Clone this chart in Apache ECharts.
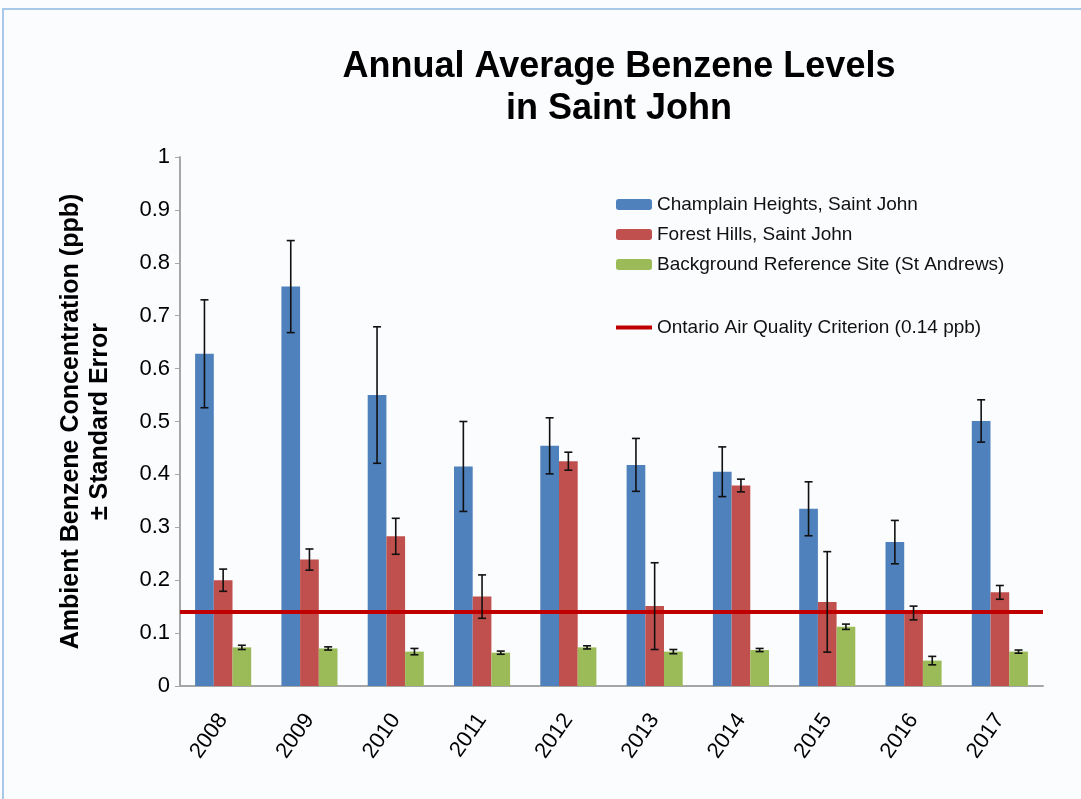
<!DOCTYPE html>
<html>
<head>
<meta charset="utf-8">
<script src="https://cdn.jsdelivr.net/npm/echarts@6/dist/echarts.min.js"></script>
<style>
  html, body { margin: 0; padding: 0; background: #fbfcfe; }
  #main { width: 1081px; height: 799px; }
</style>
</head>
<body>
<div id="main"></div>
<script>
  const years = ["2008", "2009", "2010", "2011", "2012", "2013", "2014", "2015", "2016", "2017"];
  const yTicks = { min: 0, max: 1, step: 0.1 };

  const champlain = [0.628, 0.755, 0.550, 0.415, 0.454, 0.418, 0.405, 0.335, 0.272, 0.501];
  const champlainErr = [0.102, 0.087, 0.129, 0.085, 0.053, 0.050, 0.047, 0.051, 0.041, 0.040];

  const forestHills = [0.200, 0.239, 0.283, 0.169, 0.425, 0.151, 0.379, 0.159, 0.138, 0.177];
  const forestHillsErr = [0.021, 0.020, 0.034, 0.041, 0.017, 0.082, 0.012, 0.095, 0.013, 0.013];

  const background = [0.073, 0.071, 0.065, 0.063, 0.073, 0.065, 0.068, 0.112, 0.048, 0.065];
  const backgroundErr = [0.004, 0.003, 0.006, 0.003, 0.003, 0.004, 0.003, 0.005, 0.008, 0.003];

  const criterion = 0.14;

  const names = [
    "Champlain Heights, Saint John",
    "Forest Hills, Saint John",
    "Background Reference Site (St Andrews)",
    "Ontario Air Quality Criterion (0.14 ppb)"
  ];
  const colors = ["#4f81bd", "#c0504d", "#9bbb59", "#c00000"];
  const gapPct = 0.35;

  // error bar drawn as I-beam, slot = -1 / 0 / 1 position inside the group
  function errorSeries(vals, errs, slot) {
    return {
      type: "custom",
      silent: true,
      z: 5,
      data: vals.map((v, i) => [i, v - errs[i], v + errs[i]]),
      renderItem: function (params, api) {
        const bandW = api.size([1, 0])[0];
        const barW = bandW * (1 - gapPct) / 3;
        const lo = api.coord([api.value(0), api.value(1)]);
        const hi = api.coord([api.value(0), api.value(2)]);
        const x = lo[0] + slot * barW;
        const cap = 4;
        const style = { stroke: "#111", lineWidth: 1.6 };
        return {
          type: "group",
          children: [
            { type: "line", shape: { x1: x, y1: lo[1], x2: x, y2: hi[1] }, style: style },
            { type: "line", shape: { x1: x - cap, y1: lo[1], x2: x + cap, y2: lo[1] }, style: style },
            { type: "line", shape: { x1: x - cap, y1: hi[1], x2: x + cap, y2: hi[1] }, style: style }
          ]
        };
      }
    };
  }

  const chart = echarts.init(document.getElementById("main"));
  const option = {
    backgroundColor: "#fbfcfe",
    textStyle: { fontFamily: "Liberation Sans, Arial, sans-serif" },
    title: {
      text: "Annual Average Benzene Levels\nin Saint John",
      left: 614,
      textAlign: "center",
      top: 41,
      textStyle: { fontSize: 36, fontWeight: "bold", color: "#000", lineHeight: 42 }
    },
    graphic: [
      {
        type: "rect",
        shape: { x: 3, y: 9, width: 1100, height: 800 },
        style: { fill: "none", stroke: "#a8c8e8", lineWidth: 2 },
        silent: true
      }
    ],
    legend: [
      {
        data: names.slice(0, 3),
        orient: "vertical",
        left: 611,
        top: 190,
        itemWidth: 36,
        itemHeight: 11,
        itemGap: 11,
        textStyle: { fontSize: 19, color: "#111" }
      },
      {
        data: [{ name: names[3], icon: "rect" }],
        left: 611,
        top: 313,
        itemWidth: 36,
        itemHeight: 4,
        textStyle: { fontSize: 19, color: "#111" }
      }
    ],
    grid: { left: 180, right: 38, top: 157, bottom: 113 },
    xAxis: {
      type: "category",
      data: years,
      axisLine: { lineStyle: { color: "#a6a6a6", width: 2 } },
      axisTick: { show: false },
      axisLabel: { rotate: 55, fontSize: 22, color: "#000", margin: 30 }
    },
    yAxis: {
      type: "value",
      min: yTicks.min,
      max: yTicks.max,
      interval: yTicks.step,
      name: "Ambient Benzene Concentration (ppb)\n± Standard Error",
      nameLocation: "middle",
      nameGap: 65,
      nameTextStyle: { fontSize: 25, fontWeight: "bold", color: "#000", lineHeight: 29 },
      axisLine: { show: true, lineStyle: { color: "#a6a6a6", width: 2 } },
      axisTick: { show: true, length: 5, lineStyle: { color: "#a6a6a6" } },
      axisLabel: { fontSize: 22, color: "#000", margin: 10 },
      splitLine: { show: false }
    },
    series: [
      { name: names[0], type: "bar", data: champlain, barGap: "0%", barCategoryGap: "35%", itemStyle: { color: colors[0] } },
      { name: names[1], type: "bar", data: forestHills, barGap: "0%", barCategoryGap: "35%", itemStyle: { color: colors[1] } },
      { name: names[2], type: "bar", data: background, barGap: "0%", barCategoryGap: "35%", itemStyle: { color: colors[2] } },
      errorSeries(champlain, champlainErr, -1),
      errorSeries(forestHills, forestHillsErr, 0),
      errorSeries(background, backgroundErr, 1),
      {
        name: names[3],
        type: "line",
        data: [],
        itemStyle: { color: colors[3] },
        markLine: {
          silent: true,
          symbol: "none",
          label: { show: false },
          lineStyle: { color: colors[3], width: 4, type: "solid" },
          data: [{ yAxis: criterion }]
        },
        z: 4
      }
    ]
  };
  chart.setOption(option);
</script>
</body>
</html>
